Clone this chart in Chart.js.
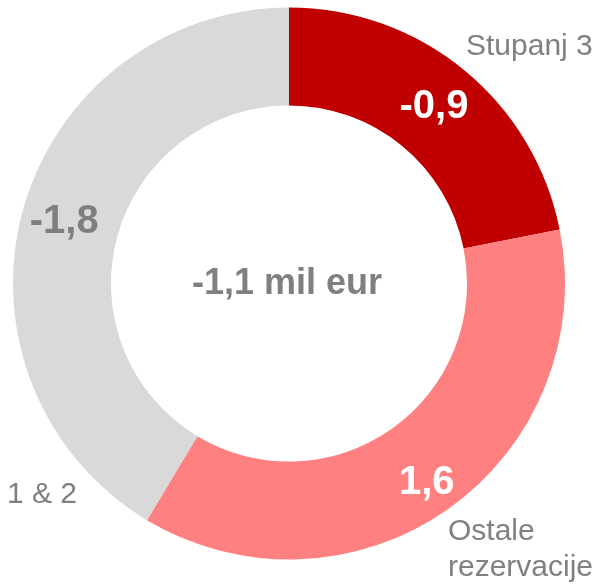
<!DOCTYPE html>
<html>
<head>
<meta charset="utf-8">
<script src="https://cdn.jsdelivr.net/npm/chart.js@4/dist/chart.umd.min.js"></script>
<style>
  html, body { margin: 0; padding: 0; background: #fff; }
  #wrap { width: 605px; height: 588px; position: relative; }
</style>
</head>
<body>
<div id="wrap"><canvas id="c"></canvas></div>
<script>
// 도넛: 조각 크기는 절댓값, 라벨은 부호 포함 값(소수 한 자리, 쉼표)
var categories = ['Stupanj 3', 'Ostale rezervacije', '1 & 2'];
var values = [-0.94, 1.58, -1.78];
var centerText = '-1,1 mil eur';

var sliceColors = ['#C00000', '#FF8080', '#D9D9D9'];
var valueColors = ['#FFFFFF', '#FFFFFF', '#7F7F7F'];
var labelNudge = [[1, -1], [7, 14], [-6, -1]];
var FONT = '"Liberation Sans", Arial, sans-serif';

function fmt(v) {
  return v.toFixed(1).replace('.', ',');
}

// 조각 위 값 + 가운데 합계 + 바깥 카테고리 라벨
var labelPlugin = {
  id: 'donutLabels',
  afterDraw: function (chart) {
    var ctx = chart.ctx;
    var meta = chart.getDatasetMeta(0);
    ctx.save();
    ctx.textAlign = 'center';
    ctx.textBaseline = 'middle';
    ctx.font = 'bold 40px ' + FONT;
    meta.data.forEach(function (arc, i) {
      var p = arc.tooltipPosition();
      ctx.fillStyle = valueColors[i];
      ctx.fillText(fmt(values[i]), p.x + labelNudge[i][0], p.y + labelNudge[i][1]);
    });

    var cx = (chart.chartArea.left + chart.chartArea.right) / 2;
    var cy = (chart.chartArea.top + chart.chartArea.bottom) / 2;
    ctx.fillStyle = '#808080';
    ctx.font = 'bold 36px ' + FONT;
    ctx.fillText(centerText, cx - 2, cy + 1);

    ctx.font = '30px ' + FONT;
    ctx.textAlign = 'left';
    ctx.textBaseline = 'alphabetic';
    ctx.fillText('Stupanj 3', 466, 55);
    ctx.fillText('Ostale', 448, 540);
    ctx.fillText('rezervacije', 448, 576);
    ctx.fillText('1 & 2', 7, 503);
    ctx.restore();
  }
};

new Chart(document.getElementById('c'), {
  type: 'doughnut',
  data: {
    labels: categories,
    datasets: [{
      data: values.map(function (v) { return Math.abs(v); }),
      backgroundColor: sliceColors,
      borderWidth: 0,
      hoverOffset: 0
    }]
  },
  options: {
    responsive: true,
    maintainAspectRatio: false,
    animation: false,
    cutout: '64.5%',
    rotation: 0,
    layout: { padding: { left: 13, top: 7, right: 40, bottom: 28 } },
    plugins: {
      legend: { display: false },
      tooltip: { enabled: false }
    }
  },
  plugins: [labelPlugin]
});
</script>
</body>
</html>
